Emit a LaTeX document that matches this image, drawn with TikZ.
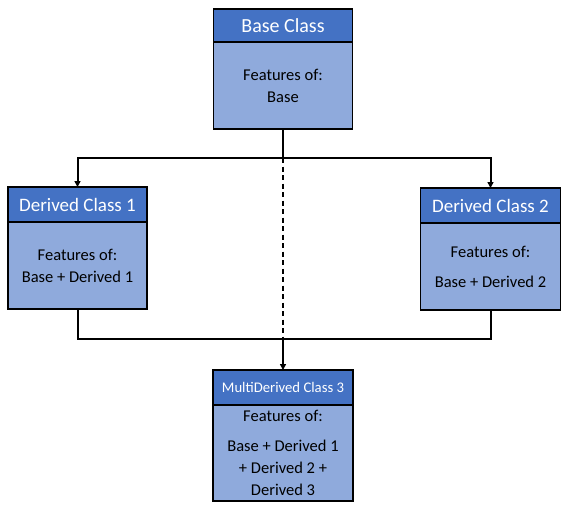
\documentclass[tikz,border=0pt]{standalone}
\usepackage{fontspec}
\setmainfont{Carlito}
\usetikzlibrary{positioning,arrows.meta}
\definecolor{headblue}{HTML}{4472C4}
\definecolor{bodyblue}{HTML}{8FAADC}

\begin{document}
\begin{tikzpicture}[x=1pt, y=-1pt,
  head/.style = {draw, fill=headblue, text=white, line width=1.2pt, outer sep=0pt, inner sep=0pt, minimum width=139pt, minimum height=34pt, anchor=north},
  body/.style = {draw, fill=bodyblue, line width=1.2pt, outer sep=0pt, inner sep=0pt, minimum width=139pt, align=center, font=\fontsize{16.5}{22}\selectfont},
  conn/.style = {line width=2pt},
  arr/.style = {conn, -{Triangle[length=6pt, width=6pt]}}]
\useasboundingbox (0,0) rectangle (569,512);

\node[head, font=\fontsize{20}{24}\selectfont, minimum height=33pt] (baseh) at (283,9) {Base Class};
\node[body, minimum height=87pt, below=0pt of baseh] (base) {Features of:\\Base};

\node[head, font=\fontsize{19}{23}\selectfont, minimum height=35pt] (d1h) at (77.5,187) {Derived Class 1};
\node[body, minimum height=87pt, below=0pt of d1h] (d1) {Features of:\\Base + Derived 1};

\node[head, font=\fontsize{19}{23}\selectfont, minimum height=35pt, minimum width=140pt] (d2h) at (490.5,188) {Derived Class 2};
\node[body, minimum height=87pt, minimum width=140pt, below=0pt of d2h] (d2) {Features of:\\[8pt]Base + Derived 2};

\node[head, font=\fontsize{14.7}{18}\selectfont, minimum height=35pt, minimum width=140pt] (mh) at (283,370) {MultiDerived Class 3};
\node[body, minimum height=96pt, minimum width=140pt, below=0pt of mh] (m) {Features of:\\[8pt]Base + Derived 1\\+ Derived 2 +\\Derived 3};

\coordinate (top) at (283,158);
\coordinate (bot) at (283,339);

\draw[conn, line width=2.6pt] (base) -- (top);
\draw[arr] (top) -| (d1h);
\draw[arr] (top) -| (d2h);
\draw[conn, dashed, dash pattern=on 5pt off 3.5pt] (top) -- (bot);
\draw[conn] (d1) |- (bot);
\draw[conn] (d2) |- (bot);
\draw[arr] (bot) -- (mh);

\end{tikzpicture}
\end{document}
